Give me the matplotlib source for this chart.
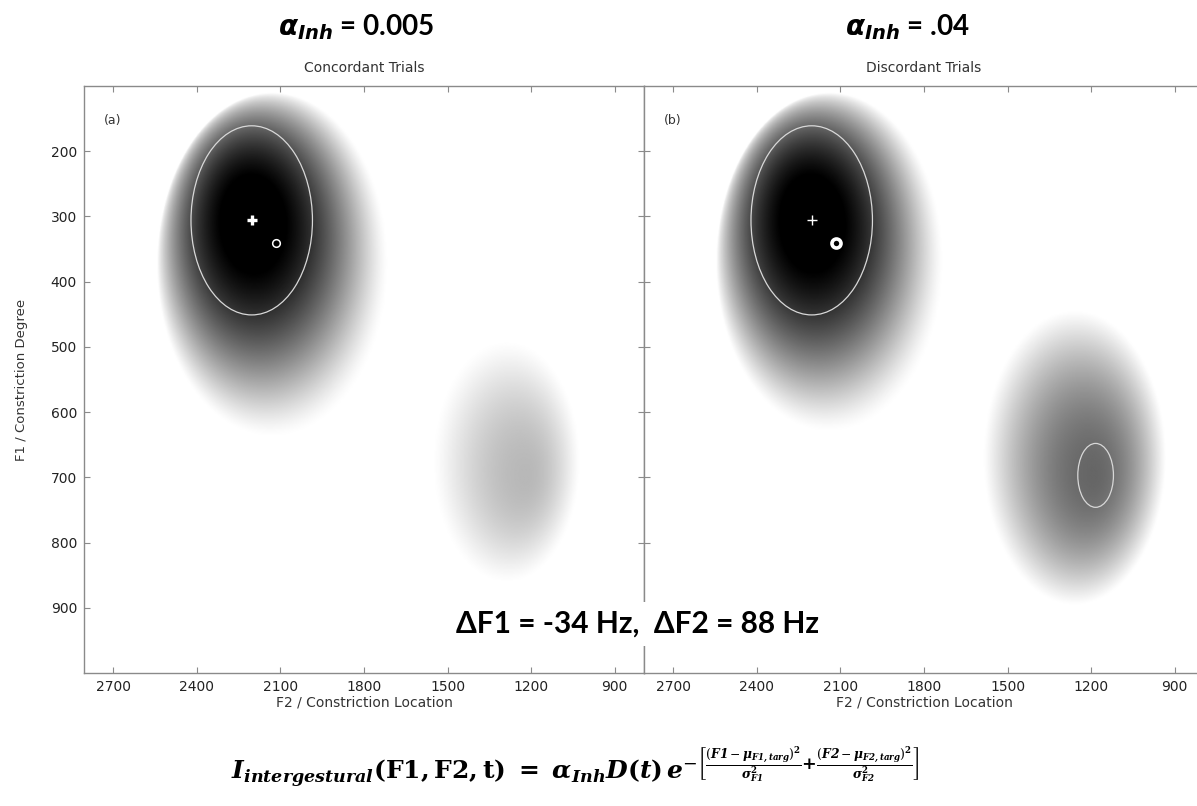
import numpy as np
import matplotlib
matplotlib.use("Agg")
import matplotlib.pyplot as plt
from matplotlib.patches import Ellipse

# ── data ────────────────────────────────────────────────────────────────────
F2_LIM = (2805, 795)          # F2 / constriction location (reversed)
F1_LIM = (1000, 100)          # F1 / constriction degree (reversed)
x_ticks = [2700, 2400, 2100, 1800, 1500, 1200, 900]
y_ticks = [200, 300, 400, 500, 600, 700, 800, 900]

panel_titles = ["Concordant Trials", "Discordant Trials"]
panel_tags = ["(a)", "(b)"]
alpha_values = ["0.005", ".04"]

# target (+) and produced (o) formant positions, Hz
target_F2, target_F1 = 2203, 306
produced_F2, produced_F1 = 2115, 340
delta_F1, delta_F2 = -34, 88

# target ellipse (same in both panels)
target_ell_half = (218, 145)

# density blobs per panel:
# darkest point (F2, F1), outline centre (F2, F1), outline half-size (F2, F1),
# peak darkness, falloff exponent towards upper-left / lower-right
blob_core = [[(2205, 300), (1215, 698)],
             [(2205, 300), (1190, 698)]]
blob_centre = [[(2128, 374), (1288, 676)],
               [(2138, 370), (1258, 670)]]
blob_half = [[(415, 264), (265, 186)],
             [(408, 260), (328, 226)]]
blob_peak = [[1.1, 0.28], [1.1, 0.6]]
blob_q_ul = [[0.62, 1.3], [0.62, 1.15]]
blob_q_lr = [[1.5, 1.3], [1.5, 1.15]]

# extra ellipse around the second target in panel (b)
second_ell_centre = (1184, 697)
second_ell_half = (64, 49)

# ── helpers ─────────────────────────────────────────────────────────────────
def blob(F2, F1, core, centre, half, peak, q_ul, q_lr):
    # distance from the darkest point, scaled so the outline ellipse is r = 1
    vx = (F2 - core[0]) / half[0]
    vy = (F1 - core[1]) / half[1]
    ux = (core[0] - centre[0]) / half[0]
    uy = (core[1] - centre[1]) / half[1]
    n = np.sqrt(vx**2 + vy**2)
    ex = vx / np.maximum(n, 1e-9)
    ey = vy / np.maximum(n, 1e-9)
    ue = ux * ex + uy * ey
    s = -ue + np.sqrt(ue**2 - (ux**2 + uy**2 - 1))
    r = n / s
    # softer falloff towards lower F2 / higher F1
    w = (1 + (ey - ex) / np.sqrt(2)) / 2
    q = q_ul + (q_lr - q_ul) * w
    return np.clip(peak * np.clip(1 - r**2, 0, 1) ** q, 0, 1)


W, H = 1197, 806
fig = plt.figure(figsize=(W / 100, H / 100), dpi=100)
fig.patch.set_facecolor("white")

ax_l = fig.add_axes([84 / W, 1 - 673 / H, 560 / W, 587 / H])
ax_r = fig.add_axes([644 / W, 1 - 673 / H, 560 / W, 587 / H])

f2 = np.linspace(F2_LIM[0], F2_LIM[1], 700)
f1 = np.linspace(F1_LIM[1], F1_LIM[0], 700)
G2, G1 = np.meshgrid(f2, f1)

spine_c = "#8a8a8a"
for i, ax in enumerate((ax_l, ax_r)):
    light = np.ones_like(G2)
    for b in range(len(blob_core[i])):
        light *= 1 - blob(G2, G1, blob_core[i][b], blob_centre[i][b],
                          blob_half[i][b], blob_peak[i][b],
                          blob_q_ul[i][b], blob_q_lr[i][b])
    ax.imshow(1 - light, cmap="gray_r", vmin=0, vmax=1,
              extent=(F2_LIM[0], F2_LIM[1], F1_LIM[0], F1_LIM[1]),
              origin="upper", aspect="auto", interpolation="bilinear", zorder=1)

    ax.add_patch(Ellipse((target_F2, target_F1), 2 * target_ell_half[0],
                         2 * target_ell_half[1], fill=False, ec="#d8d8d8",
                         lw=0.9, zorder=3))
    mew = 2.4 if i == 0 else 1.0
    ax.plot([target_F2], [target_F1], marker="+", color="white", ms=6.5,
            mew=mew, zorder=4)
    mew = 1.1 if i == 0 else 2.6
    ax.plot([produced_F2], [produced_F1], marker="o", mfc="none", mec="white",
            ms=5.5 if i == 0 else 6.5, mew=mew, zorder=4)

    ax.set_xlim(F2_LIM)
    ax.set_ylim(F1_LIM)
    ax.set_xticks(x_ticks)
    ax.set_yticks(y_ticks)
    ax.tick_params(direction="in", length=4, width=0.8, color=spine_c,
                   top=True, right=True, labelsize=10, labelcolor="#222222",
                   pad=5)
    for sp in ax.spines.values():
        sp.set_color(spine_c)
        sp.set_linewidth(1.0)
    ax.set_title(panel_titles[i], fontsize=10, color="#333333", pad=10)
    ax.set_xlabel("F2 / Constriction Location", fontsize=10, color="#333333",
                  labelpad=1)
    ax.text(0.052, 0.942, panel_tags[i], transform=ax.transAxes, fontsize=9,
            color="#333333", ha="center", va="center", zorder=5)

ax_l.set_ylabel("F1 / Constriction Degree", fontsize=9.5, color="#333333",
                labelpad=16)
ax_r.set_yticklabels([])

ax_r.add_patch(Ellipse(second_ell_centre, 2 * second_ell_half[0],
                       2 * second_ell_half[1], fill=False, ec="#d8d8d8",
                       lw=0.9, zorder=3))

# ── big annotations ─────────────────────────────────────────────────────────
bold_family = ["Lato", "DejaVu Sans"]
for x_px, val in zip((356, 907), alpha_values):
    fig.text(x_px / W, 1 - 27 / H,
             r"$\mathbfit{\alpha}_{\mathbfit{Inh}}$ = " + val,
             fontsize=20, fontweight="bold", family=bold_family,
             math_fontfamily="dejavusans", ha="center", va="center")

fig.text(637 / W, 1 - 624 / H,
         f"\u0394F1 = {delta_F1} Hz,  \u0394F2 = {delta_F2} Hz",
         fontsize=21.5, fontweight="bold", family=bold_family,
         ha="center", va="center", zorder=10,
         bbox=dict(facecolor="white", edgecolor="none", pad=6))

formula = (r"$\mathbfit{I}_{\mathbfit{intergestural}}\mathbf{(F1,F2,t)}\ \mathbf{=}\ "
           r"\mathbfit{\alpha}_{\mathbfit{Inh}}\mathbfit{D}\mathbf{(}\mathbfit{t}\mathbf{)}\,"
           r"\mathbfit{e}^{-\left[\frac{(\mathbfit{F1}-\mathbfit{\mu}_{\mathbfit{F1,targ}})^\mathbf{2}}"
           r"{\mathbfit{\sigma}_{\mathbfit{F1}}^\mathbf{2}}\mathbf{+}"
           r"\frac{(\mathbfit{F2}-\mathbfit{\mu}_{\mathbfit{F2,targ}})^\mathbf{2}}"
           r"{\mathbfit{\sigma}_{\mathbfit{F2}}^\mathbf{2}}\right]}$")
fig.text(575 / W, 1 - 768 / H, formula, fontsize=18,
         math_fontfamily="dejavuserif", ha="center", va="center")

fig.savefig("out.png", dpi=100, facecolor="white")
